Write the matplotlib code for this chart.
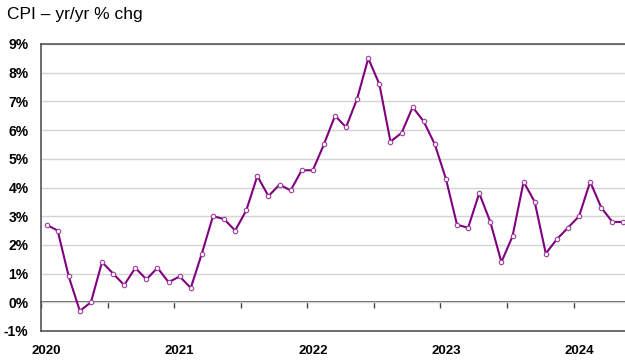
import matplotlib
matplotlib.use("Agg")
import matplotlib.pyplot as plt
import numpy as np

# monthly CPI yr/yr % change, Jan 2020 .. May 2024
cpi = [2.7, 2.5, 0.9, -0.3, 0.0, 1.4, 1.0, 0.6, 1.2, 0.8, 1.2, 0.7,
       0.9, 0.5, 1.7, 3.0, 2.9, 2.5, 3.2, 4.4, 3.7, 4.1, 3.9, 4.6,
       4.6, 5.5, 6.5, 6.1, 7.1, 8.5, 7.6, 5.6, 5.9, 6.8, 6.3, 5.5,
       4.3, 2.7, 2.6, 3.8, 2.8, 1.4, 2.3, 4.2, 3.5, 1.7, 2.2, 2.6,
       3.0, 4.2, 3.3, 2.8, 2.8]
years = ["2020", "2021", "2022", "2023", "2024"]
y_ticks = list(range(-1, 10))

plt.rcParams["font.family"] = ["Liberation Sans", "DejaVu Sans"]

fig = plt.figure(figsize=(6.25, 3.6), dpi=100)
# plot area runs a little past the right edge of the picture
ax = fig.add_axes([41 / 625, 29 / 360, 588 / 625, 287 / 360])

x = np.arange(len(cpi))
ax.plot(x, cpi, color="#800080", lw=1.5, marker="o", ms=3.2,
        mfc="white", mec="#9b3d9b", mew=0.8, zorder=3, clip_on=False)

ax.set_xlim(-0.5, len(cpi) - 0.5)
ax.set_ylim(-1, 9)
ax.set_yticks(y_ticks)
ax.set_yticklabels([f"{v}%" for v in y_ticks], fontweight="bold", fontsize=10)
ax.tick_params(axis="y", length=0, pad=9)
ax.grid(axis="y", color="#d4d4d4", lw=1)
ax.set_axisbelow(True)

# year labels at January of each year
ax.set_xticks(np.arange(len(years)) * 12)
ax.set_xticklabels(years, fontweight="bold", fontsize=9.5)
ax.tick_params(axis="x", length=0, pad=10)

for side in ["left", "bottom", "top"]:
    ax.spines[side].set_color("#555555")
    ax.spines[side].set_linewidth(1.2)
ax.spines["right"].set_visible(False)

# zero line with half-year tick marks
zero = ax.secondary_xaxis(1 / 10)
zero.spines["bottom"].set_color("#444444")
zero.spines["bottom"].set_linewidth(1.2)
zero.set_xticks(np.arange(-0.5, len(cpi), 6))
zero.tick_params(axis="x", length=4, width=1, color="#444444",
                 direction="out", labelbottom=False)

fig.text(7 / 625, 1 - 15 / 360, "CPI \u2013 yr/yr % chg", fontsize=12.5,
         va="center", ha="left")

fig.savefig("out.png", dpi=100)
